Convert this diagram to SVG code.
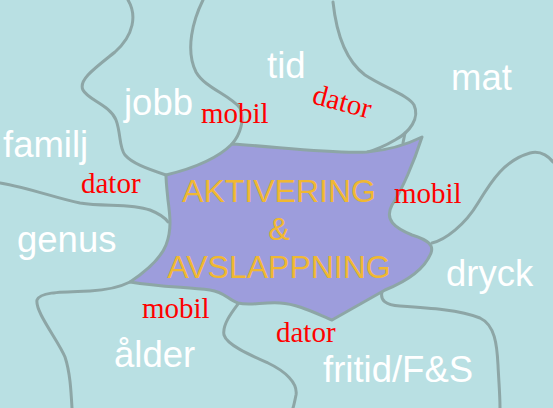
<svg xmlns="http://www.w3.org/2000/svg" width="553" height="408" viewBox="0 0 553 408">
<style>
.bd{fill:none;stroke:#8da6a6;stroke-width:3;stroke-linecap:round;stroke-linejoin:round}
.w{font-family:"Liberation Sans",Arial,sans-serif;font-size:36.5px;fill:#ffffff}
.r{font-family:"Liberation Serif","Times New Roman",serif;font-size:29px;fill:#ff0000}
.c{font-family:"Liberation Sans",Arial,sans-serif;font-size:32px;fill:#f0b832;text-anchor:middle}
</style>
<rect width="553" height="408" fill="#b9e0e3"/>
<g id="connectors">
<path class="bd" d="M128,0 C137,15 134,35 115,52 C95,68 78,80 83,90 C88,100 110,105 116,120 C121,133 119,148 125,155 C132,163 145,168 166,175"/>
<path class="bd" d="M203,0 C193,20 185,50 196,72 C205,88 230,95 240,108 C245,120 240,135 232,144"/>
<path class="bd" d="M333,2 C336,30 345,60 365,75 C385,88 408,95 414,105 C420,118 410,132 395,140 C385,146 375,150 365,153"/>
<path class="bd" d="M405,133 L403,143"/>
<path class="bd" d="M432,243 C445,240 465,225 478,203 C492,180 505,160 530,153 C542,150 550,158 553,162"/>
<path class="bd" d="M382,292 C380,300 385,305 400,306 C430,308 460,310 480,318 C495,325 497,345 498,365 C499,385 500,395 500,408"/>
<path class="bd" d="M238,304 C232,312 222,325 224,335 C227,345 250,355 268,363 C285,371 298,383 296,395 C295,400 294,405 293,408"/>
<path class="bd" d="M130,282 C120,287 110,290 90,291 C60,292 40,292 37,300 C35,312 58,340 65,357 C70,372 71,390 72,408"/>
<path class="bd" d="M0,183 C30,188 55,198 80,203 C105,207 130,203 150,210 C160,214 166,219 168,222"/>
</g>
<g id="center">
<path d="M166,175 C195,168 218,158 232,144 C280,147 330,154 367,152 C390,150 410,143 422,137 C414,162 402,190 392,205 C384,220 395,228 412,235 C428,240 434,245 431,253 C425,268 410,280 385,290 L332,320 C315,313 298,304 280,303 C262,302 250,306 238,303 C228,300 225,292 210,290 C185,287 160,287 130,282 C145,272 160,260 166,245 C172,230 170,215 168,200 C167,190 166,182 166,175 Z" fill="#9d9ddc" stroke="#8da6a6" stroke-width="3" stroke-linejoin="round"/>
<text class="c" x="279" y="202">AKTIVERING</text>
<text class="c" x="279" y="240">&amp;</text>
<text class="c" x="279" y="278">AVSLAPPNING</text>
</g>
<g id="jobb"><text class="w" x="124" y="115">jobb</text></g>
<g id="tid"><text class="w" x="267" y="78">tid</text></g>
<g id="mat"><text class="w" x="451" y="90">mat</text></g>
<g id="familj"><text class="w" x="3" y="157">familj</text></g>
<g id="genus"><text class="w" x="17" y="252">genus</text></g>
<g id="alder"><text class="w" x="114" y="367">ålder</text></g>
<g id="dryck"><text class="w" x="446" y="286">dryck</text></g>
<g id="fritid"><text class="w" x="323" y="382">fritid/F&amp;S</text></g>
<g id="labels">
<text class="r" x="201" y="123">mobil</text>
<text class="r" x="311" y="103" transform="rotate(15 311 103)">dator</text>
<text class="r" x="81" y="193">dator</text>
<text class="r" x="394" y="203">mobil</text>
<text class="r" x="142" y="318">mobil</text>
<text class="r" x="276" y="342">dator</text>
</g>
</svg>
